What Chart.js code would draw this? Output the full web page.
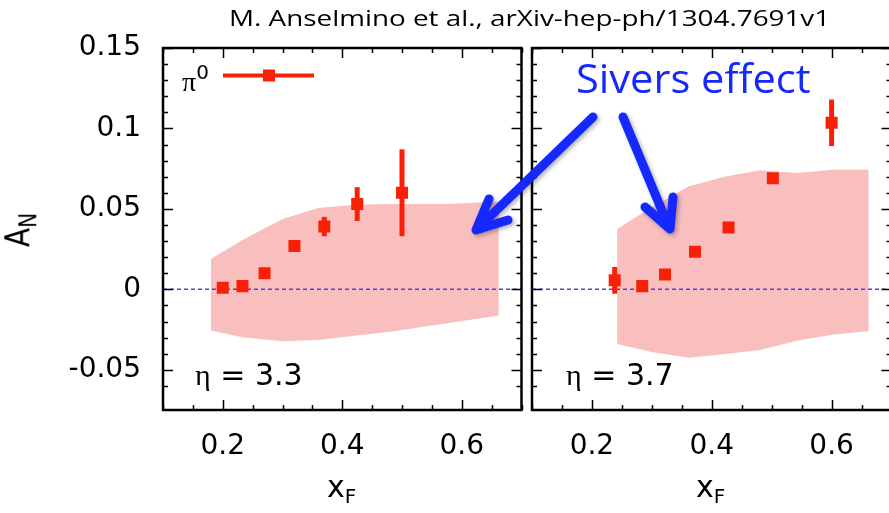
<!DOCTYPE html>
<html>
<head>
<meta charset="utf-8">
<script src="https://cdn.jsdelivr.net/npm/chart.js@4.4.0/dist/chart.umd.min.js"></script>
<style>
  body { margin: 0; width: 889px; height: 513px; overflow: hidden; position: relative; background: #fff; }
  canvas { position: absolute; left: 0; top: 0; }
  .txt { position: absolute; white-space: nowrap; line-height: 1; color: #000; font-family: "DejaVu Sans", sans-serif; }
  #title { left: 229px; top: 6px; font-family: "Open Sans", sans-serif; font-size: 22px; transform: scaleX(1.265); transform-origin: left center; }
  #sivers { left: 576px; top: 58px; font-family: "Open Sans", sans-serif; font-size: 40px; color: #1428ff; transform: scaleX(1.04); transform-origin: left center; }
  #ylab { left: 4px; top: 214px; font-size: 28px; transform: rotate(-90deg) scale(1, 1.2); transform-origin: center; }
  #ylab sub, .xlab sub { font-size: 20px; vertical-align: -6px; }
  .xlab { top: 472px; font-size: 30px; }
  .eta { top: 360px; font-size: 30px; }
  .eta span, #pi span { font-family: "Liberation Serif", serif; }
  #pi { left: 182px; top: 62px; font-size: 28px; }
  #pi sup { font-family: "DejaVu Sans", sans-serif; font-size: 20px; vertical-align: 12px; }
  svg { position: absolute; left: 0; top: 0; }
</style>
</head>
<body>
<canvas id="left" width="530" height="513"></canvas>
<canvas id="right" width="900" height="513"></canvas>

<div class="txt" id="title">M. Anselmino et al., arXiv-hep-ph/1304.7691v1</div>
<div class="txt" id="ylab">A<sub>N</sub></div>
<div class="txt xlab" style="left:327px">x<sub>F</sub></div>
<div class="txt xlab" style="left:696px">x<sub>F</sub></div>
<div class="txt eta" style="left:195px"><span>η</span> = 3.3</div>
<div class="txt eta" style="left:566px"><span>η</span> = 3.7</div>
<div class="txt" id="pi"><span>π</span><sup>0</sup></div>
<div class="txt" id="sivers">Sivers effect</div>

<svg width="889" height="513" style="filter: drop-shadow(2px 2px 2px rgba(0,0,0,0.3))">
  <g stroke="#1428ff" stroke-width="9" fill="none" stroke-linecap="round" stroke-linejoin="round">
    <line x1="593" y1="117" x2="480" y2="226"/>
    <polyline points="489,199 476,230 508,220"/>
    <line x1="623" y1="117" x2="668" y2="225"/>
    <polyline points="645,207 670,229 673,197"/>
  </g>
</svg>

<script>
// axis ranges
const xMin = 0.1, xMax = 0.7;
const yMin = -0.075, yMax = 0.15;
const xLabelTicks = [0.2, 0.4, 0.6];
const yLabelTicks = [-0.05, 0, 0.05, 0.1, 0.15];

// eta = 3.3 data (pi0)
const xf33 = [0.2, 0.233, 0.27, 0.32, 0.37, 0.425, 0.5];
const an33 = [0.001, 0.002, 0.01, 0.027, 0.039, 0.053, 0.06];
const err33 = [0, 0, 0, 0, 0.006, 0.0105, 0.027];

// eta = 3.3 Sivers band
const bandX33 = [0.18, 0.233, 0.3, 0.36, 0.42, 0.48, 0.578, 0.662];
const bandUp33 = [0.0188, 0.0306, 0.0437, 0.0506, 0.0525, 0.053, 0.053, 0.0546];
const bandLo33 = [-0.0256, -0.0298, -0.0323, -0.0315, -0.0288, -0.0263, -0.021, -0.0163];

// eta = 3.7 data (pi0)
const xf37 = [0.238, 0.284, 0.322, 0.372, 0.428, 0.502, 0.6];
const an37 = [0.0056, 0.002, 0.0092, 0.0233, 0.0385, 0.069, 0.1035];
const err37 = [0.0083, 0, 0, 0, 0, 0.002, 0.0145];

// eta = 3.7 Sivers band
const bandX37 = [0.242, 0.3, 0.362, 0.423, 0.481, 0.542, 0.603, 0.662];
const bandUp37 = [0.0375, 0.051, 0.064, 0.0702, 0.074, 0.0723, 0.0744, 0.0744];
const bandLo37 = [-0.034, -0.039, -0.0425, -0.0402, -0.0377, -0.0319, -0.0281, -0.026];

const red = '#fa2008';
const bandColor = 'rgba(249, 190, 190, 1)';
const zeroColor = '#5a3fd8';

function near(v, list) {
    return list.some(t => Math.abs(v - t) < 1e-6);
}

function onGrid(v, step) {
    return Math.abs(v / step - Math.round(v / step)) < 1e-6;
}

// error bars for the pi0 points
const errorBars = {
    id: 'errorBars',
    afterDatasetsDraw(chart) {
        const ctx = chart.ctx;
        const xs = chart.scales.x, ys = chart.scales.y;
        chart.data.datasets.forEach(ds => {
            if (!ds.errors) return;
            ctx.save();
            ctx.strokeStyle = red;
            ctx.lineWidth = 5;
            ds.data.forEach((p, i) => {
                const e = ds.errors[i];
                if (!e) return;
                const px = xs.getPixelForValue(p.x);
                ctx.beginPath();
                ctx.moveTo(px, ys.getPixelForValue(p.y - e));
                ctx.lineTo(px, ys.getPixelForValue(p.y + e));
                ctx.stroke();
            });
            ctx.restore();
        });
    }
};

// frame with inward ticks on all four sides
const frame = {
    id: 'frame',
    afterDraw(chart, args, opts) {
        const ctx = chart.ctx;
        const a = chart.chartArea;
        const xs = chart.scales.x, ys = chart.scales.y;
        ctx.save();
        ctx.strokeStyle = '#000';
        ctx.lineWidth = 1.5;
        ctx.beginPath();
        xs.ticks.forEach(t => {
            if (!onGrid(t.value, 0.05)) return;
            const px = Math.round(xs.getPixelForValue(t.value)) + 0.5;
            const len = onGrid(t.value, 0.2) ? 10 : 5;
            ctx.moveTo(px, a.bottom); ctx.lineTo(px, a.bottom - len);
            ctx.moveTo(px, a.top); ctx.lineTo(px, a.top + len);
        });
        ys.ticks.forEach(t => {
            if (!onGrid(t.value, 0.01)) return;
            const py = Math.round(ys.getPixelForValue(t.value)) + 0.5;
            const len = onGrid(t.value, 0.05) ? 10 : 5;
            ctx.moveTo(a.left, py); ctx.lineTo(a.left + len, py);
            ctx.moveTo(a.right, py); ctx.lineTo(a.right - len, py);
        });
        ctx.stroke();
        ctx.lineWidth = 2.5;
        ctx.strokeRect(a.left, a.top, a.right - a.left, a.bottom - a.top);
        // legend sample
        if (opts.legendSample) {
            ctx.strokeStyle = red;
            ctx.lineWidth = 4;
            ctx.beginPath();
            ctx.moveTo(223, 75.5); ctx.lineTo(314, 75.5);
            ctx.stroke();
            ctx.fillStyle = red;
            ctx.fillRect(263, 69.5, 12, 12);
        }
        ctx.restore();
    }
};

function panelConfig(xf, an, err, bx, bUp, bLo, yWidth, rightPad, showY, legendSample) {
    return {
        type: 'scatter',
        data: {
            datasets: [
                {
                    label: 'band upper',
                    data: bx.map((x, i) => ({ x: x, y: bUp[i] })),
                    showLine: true,
                    borderWidth: 0,
                    borderColor: 'rgba(0,0,0,0)',
                    pointRadius: 0,
                    backgroundColor: bandColor,
                    fill: '+1',
                    order: 3
                },
                {
                    label: 'band lower',
                    data: bx.map((x, i) => ({ x: x, y: bLo[i] })),
                    showLine: true,
                    borderWidth: 0,
                    borderColor: 'rgba(0,0,0,0)',
                    pointRadius: 0,
                    fill: false,
                    order: 3
                },
                {
                    label: 'zero',
                    data: [{ x: xMin, y: 0 }, { x: xMax, y: 0 }],
                    showLine: true,
                    borderColor: zeroColor,
                    borderWidth: 1.5,
                    borderDash: [4, 3],
                    pointRadius: 0,
                    fill: false,
                    order: 2
                },
                {
                    label: 'π0',
                    data: xf.map((x, i) => ({ x: x, y: an[i] })),
                    errors: err,
                    pointStyle: 'rect',
                    pointRadius: 8.5,
                    pointHoverRadius: 8.5,
                    backgroundColor: red,
                    borderWidth: 0,
                    order: 1
                }
            ]
        },
        options: {
            responsive: false,
            animation: false,
            devicePixelRatio: 1,
            layout: { padding: { top: 48, right: rightPad, left: 0, bottom: 0 } },
            plugins: {
                legend: { display: false },
                tooltip: { enabled: false },
                frame: { legendSample: legendSample }
            },
            scales: {
                x: {
                    type: 'linear',
                    min: xMin,
                    max: xMax,
                    grid: { display: false, drawTicks: false },
                    border: { display: false },
                    afterFit: s => { s.height = 103; s.paddingLeft = 0; s.paddingRight = 0; },
                    ticks: {
                        stepSize: 0.05,
                        autoSkip: false,
                        maxRotation: 0,
                        padding: 20,
                        color: '#000',
                        font: { family: 'DejaVu Sans', size: 28 },
                        callback: v => near(v, xLabelTicks) ? Number(v.toFixed(2)).toString() : ''
                    }
                },
                y: {
                    type: 'linear',
                    min: yMin,
                    max: yMax,
                    grid: { display: false, drawTicks: false },
                    border: { display: false },
                    afterFit: s => { s.width = yWidth; s.paddingTop = 0; s.paddingBottom = 0; },
                    ticks: {
                        display: showY,
                        stepSize: 0.01,
                        autoSkip: false,
                        padding: 22,
                        color: '#000',
                        font: { family: 'DejaVu Sans', size: 28 },
                        callback: v => near(v, yLabelTicks) ? Number(v.toFixed(2)).toString() : ''
                    }
                }
            }
        },
        plugins: [errorBars, frame]
    };
}

new Chart(document.getElementById('left'),
    panelConfig(xf33, an33, err33, bandX33, bandUp33, bandLo33, 163, 7, true, true));
new Chart(document.getElementById('right'),
    panelConfig(xf37, an37, err37, bandX37, bandUp37, bandLo37, 532, 7, false, false));
</script>
</body>
</html>
